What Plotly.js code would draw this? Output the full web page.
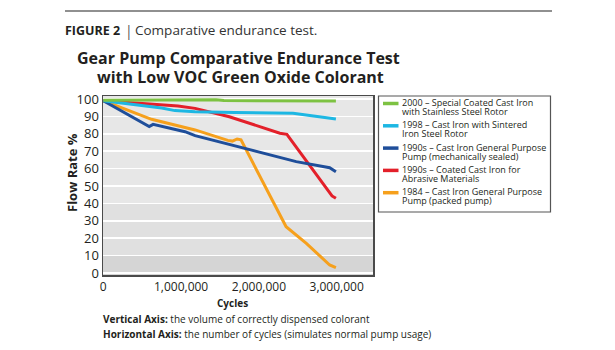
<!DOCTYPE html>
<html>
<head>
<meta charset="utf-8">
<script src="https://cdn.plot.ly/plotly-3.0.1.min.js"></script>
<style>html,body{margin:0;padding:0;background:#fff;}#chart{width:615px;height:350px;}</style>
</head>
<body>
<div id="chart"></div>
<script>
// ---- data ----
const seriesNames = [
  ["2000 – Special Coated Cast Iron", "with Stainless Steel Rotor"],
  ["1998 – Cast Iron with Sintered", "Iron Steel Rotor"],
  ["1990s – Cast Iron General Purpose", "Pump (mechanically sealed)"],
  ["1990s – Coated Cast Iron for", "Abrasive Materials"],
  ["1984 – Cast Iron General Purpose", "Pump (packed pump)"]
];
const seriesColors = ["#7dc242", "#1db7e3", "#1f4e9a", "#e3202a", "#f6a01c"];

const greenX = [0, 1450000, 1550000, 2000000, 2050000, 2990000];
const greenY = [99.3, 99.6, 99.1, 99.1, 98.8, 98.8];
const cyanX = [0, 410000, 750000, 920000, 1180000, 1690000, 2440000, 2990000];
const cyanY = [99, 96.6, 94.8, 93.3, 92.7, 92.2, 91.8, 88.5];
const blueX = [0, 590000, 640000, 1050000, 1180000, 1690000, 2480000, 2910000, 2990000];
const blueY = [99, 84.1, 85.4, 81.2, 78.9, 73, 64, 60.5, 58.2];
const redX = [0, 500000, 960000, 1180000, 1620000, 2270000, 2360000, 2650000, 2880000, 2940000, 2990000];
const redY = [99, 97.5, 96, 94.6, 89.8, 80.3, 79.7, 62, 47.7, 44.3, 42.9];
const orangeX = [0, 620000, 1180000, 1600000, 1660000, 1720000, 1770000, 2350000, 2610000, 2910000, 2990000];
const orangeY = [99, 88.3, 82.2, 76.2, 75.8, 77, 76.5, 26.6, 17, 4.6, 3.1];

const xTickVals = [0, 1000000, 2000000, 3000000];
const xTickText = ["0", "1,000,000", "2,000,000", "3,000,000"];
const yTickVals = [0, 10, 20, 30, 40, 50, 60, 70, 80, 90, 100];

// ---- layout helpers (pixel -> paper) ----
const ML = 103, MR = 242, MT = 96, MB = 75, W = 615, H = 350;
const PW = W - ML - MR, PH = H - MT - MB;
const px = x => (x - ML) / PW;
const py = y => (H - MB - y) / PH;

const FONT = "Open Sans, Noto Sans, sans-serif";
const TXT = "#231f20";

const xs = [greenX, cyanX, blueX, redX, orangeX];
const ys = [greenY, cyanY, blueY, redY, orangeY];
const drawOrder = [4, 3, 2, 1, 0];
const traces = drawOrder.map(i => ({
  x: xs[i], y: ys[i], type: "scatter", mode: "lines",
  name: seriesNames[i].join(" "),
  line: {color: seriesColors[i], width: 3},
  showlegend: false, hoverinfo: "skip"
}));

const shapes = [
  // top rule
  {type: "line", xref: "paper", yref: "paper", x0: px(65), x1: px(552), y0: py(11), y1: py(11),
   line: {color: "#222", width: 1.2}},
  // background shading bands
  {type: "rect", xref: "paper", yref: "y", x0: 0, x1: 1, y0: -1.2, y1: 10, fillcolor: "#d5d5d5",
   line: {width: 0}, layer: "below"},
  {type: "rect", xref: "paper", yref: "y", x0: 0, x1: 1, y0: 10, y1: 40, fillcolor: "#e0e0e0",
   line: {width: 0}, layer: "below"},
  // legend box
  {type: "rect", xref: "paper", yref: "paper", x0: px(378.5), x1: px(550.5), y0: py(96), y1: py(212),
   line: {color: "#555", width: 1.2}, fillcolor: "rgba(0,0,0,0)"}
];

const annotations = [
  {xref: "paper", yref: "paper", x: px(63), y: py(30), xanchor: "left", yanchor: "middle", showarrow: false,
   text: "<b>FIGURE 2</b>", font: {family: FONT, size: 12.5, color: TXT}},
  {xref: "paper", yref: "paper", x: px(123), y: py(30), xanchor: "left", yanchor: "middle", showarrow: false,
   text: "|", font: {family: FONT, size: 14, color: "#555"}},
  {xref: "paper", yref: "paper", x: px(133), y: py(30), xanchor: "left", yanchor: "middle", showarrow: false,
   text: "Comparative endurance test.", font: {family: FONT, size: 13.5, color: "#333"}},
  {xref: "paper", yref: "paper", x: px(238), y: py(58), xanchor: "center", yanchor: "middle", showarrow: false,
   text: "<b>Gear Pump Comparative Endurance Test</b>", font: {family: FONT, size: 16, color: TXT}},
  {xref: "paper", yref: "paper", x: px(240), y: py(77), xanchor: "center", yanchor: "middle", showarrow: false,
   text: "<b>with Low VOC Green Oxide Colorant</b>", font: {family: FONT, size: 16, color: TXT}},
  {xref: "paper", yref: "paper", x: px(72), y: py(173), xanchor: "center", yanchor: "middle", showarrow: false,
   textangle: -90, text: "<b>Flow Rate %</b>", font: {family: FONT, size: 13, color: TXT}},
  {xref: "paper", yref: "paper", x: px(232), y: py(303), xanchor: "center", yanchor: "middle", showarrow: false,
   text: "<b>Cycles</b>", font: {family: FONT, size: 10, color: TXT}},
  {xref: "paper", yref: "paper", x: px(101), y: py(319), xanchor: "left", yanchor: "middle", showarrow: false,
   text: "<b>Vertical Axis:</b> the volume of correctly dispensed colorant", font: {family: FONT, size: 10, color: TXT}},
  {xref: "paper", yref: "paper", x: px(101), y: py(334), xanchor: "left", yanchor: "middle", showarrow: false,
   text: "<b>Horizontal Axis:</b> the number of cycles (simulates normal pump usage)", font: {family: FONT, size: 10, color: TXT}}
];

// manual legend (tight two-line entries)
seriesNames.forEach((lines, i) => {
  const top = 102.5 + 22.3 * i;
  shapes.push({type: "line", xref: "paper", yref: "paper", x0: px(383), x1: px(398.5), y0: py(top + 1), y1: py(top + 1),
    line: {color: seriesColors[i], width: 3.5}});
  lines.forEach((t, j) => {
    annotations.push({xref: "paper", yref: "paper", x: px(400), y: py(top + 9 * j), xanchor: "left", yanchor: "middle",
      showarrow: false, text: t, font: {family: FONT, size: 9, color: TXT}});
  });
});

const layout = {
  width: W, height: H,
  margin: {l: ML, r: MR, t: MT, b: MB, pad: 0},
  paper_bgcolor: "#ffffff",
  plot_bgcolor: "#e7e7e7",
  showlegend: false,
  xaxis: {
    range: [-4000, 3467000], tickvals: xTickVals, ticktext: xTickText,
    showgrid: false, zeroline: false, showline: true, mirror: true, linecolor: "#4a4a4a", linewidth: 1.5,
    ticks: "", tickfont: {family: FONT, size: 12, color: TXT}, fixedrange: true
  },
  yaxis: {
    range: [-1.15, 101.7], tickvals: yTickVals,
    showgrid: true, gridcolor: "#ffffff", gridwidth: 1.5, zeroline: false,
    showline: true, mirror: true, linecolor: "#4a4a4a", linewidth: 1.5,
    ticks: "", tickfont: {family: FONT, size: 13, color: TXT}, fixedrange: true
  },
  shapes: shapes,
  annotations: annotations
};

Plotly.newPlot("chart", traces, layout, {staticPlot: true, displayModeBar: false});
</script>
</body>
</html>
